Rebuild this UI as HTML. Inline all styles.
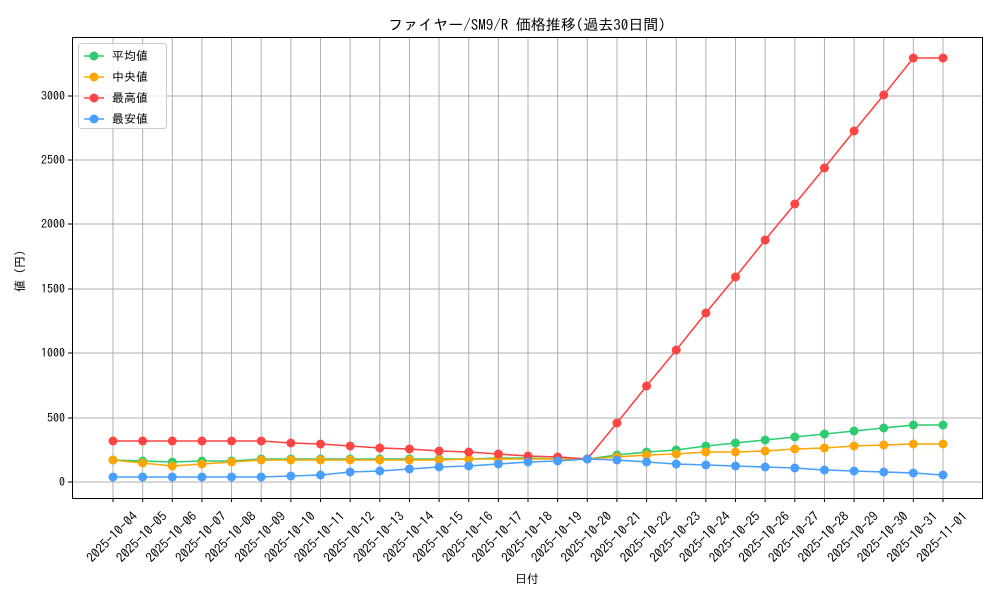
<!DOCTYPE html>
<html><head><meta charset="utf-8"><style>
body{margin:0;background:#fff;}
svg{display:block;font-family:"IPAGothic","Noto Sans CJK JP",monospace;}
</style></head><body>
<svg id="s" width="1000" height="600" xmlns="http://www.w3.org/2000/svg">
<rect width="1000" height="600" fill="#fff"/>
<text x="527" y="30" font-size="15" text-anchor="middle" fill="#000">ファイヤー/SM9/R 価格推移(過去30日間)</text>
<text x="527" y="583" font-size="12" text-anchor="middle" fill="#000">日付</text>
<text x="0" y="0" font-size="12" text-anchor="middle" fill="#000" transform="translate(24,268) rotate(-90)">値（円）</text>
<g id="grid"></g>
<g id="series"></g>
<rect x="72.5" y="37.5" width="910" height="461" fill="none" stroke="#000" stroke-width="1"/>
<g id="legend">
<rect x="78.5" y="43.5" width="88" height="85" fill="#fff" fill-opacity="0.8" stroke="#ccc" rx="3"/>
</g>
</svg>
<script>
const NS="http://www.w3.org/2000/svg";
function el(t,a,p,txt){const e=document.createElementNS(NS,t);for(const k in a)e.setAttribute(k,a[k]);if(txt)e.textContent=txt;p.appendChild(e);return e;}
const g=document.getElementById('grid'),s=document.getElementById('series'),L=document.getElementById('legend');
const X=i=>113+i*29.643;
const yt=[[0,482],[500,418],[1000,353],[1500,289],[2000,224],[2500,160],[3000,96]];
yt.forEach(([v,y])=>{el('line',{x1:72,x2:982,y1:y,y2:y,stroke:'#b0b0b0','stroke-width':1},g);
el('line',{x1:68,x2:72,y1:y,y2:y,stroke:'#000'},g);
el('text',{x:65,y:y+4,'font-size':12,'text-anchor':'end'},g,String(v));});
for(let i=0;i<29;i++){const x=X(i);const d=new Date(2025,9,4+i);
const lab=d.getFullYear()+'-'+String(d.getMonth()+1).padStart(2,'0')+'-'+String(d.getDate()).padStart(2,'0');
el('line',{x1:x,x2:x,y1:37,y2:498,stroke:'#b0b0b0','stroke-width':1},g);
el('line',{x1:x,x2:x,y1:498,y2:502,stroke:'#000'},g);
el('text',{x:0,y:4.5,'font-size':13,'text-anchor':'middle',transform:`translate(${x-1},${537}) rotate(-45)`},g,lab);}
const red=[441,441,441,441,441,441,443,444,446,448,449,451,452,454,456,457,459,423,386,350,313,277,240,204,168,131,95,58,58];
const green=[460,461,462,461,461,459,459,459,459,459,459,459,459,458,458,459,459,455,452,450,446,443,440,437,434,431,428,425,425];
const orange=[460,463,466,464,462,460,460,460,460,460,460,460,459,459,459,459,459,457,455,454,452,452,451,449,448,446,445,444,444];
const blue=[477,477,477,477,477,477,476,475,472,471,469,467,466,464,462,461,459,460,462,464,465,466,467,468,470,471,472,473,475];
const ser=[[green,'#2ecc71','平均値'],[orange,'#ffa500','中央値'],[red,'#ff4444','最高値'],[blue,'#4a9eff','最安値']];
ser.forEach(([d,c])=>{el('polyline',{points:d.map((y,i)=>X(i)+','+y).join(' '),fill:'none',stroke:c,'stroke-width':1.6},s);
d.forEach((y,i)=>el('circle',{cx:X(i),cy:y,r:4.5,fill:c},s));});
ser.forEach(([d,c,n],k)=>{const y=56+k*21;
el('line',{x1:84,x2:104,y1:y,y2:y,stroke:c,'stroke-width':1.6},L);
el('circle',{cx:94,cy:y,r:4.5,fill:c},L);
el('text',{x:112,y:y+4,'font-size':12},L,n);});
</script>
</body></html>
